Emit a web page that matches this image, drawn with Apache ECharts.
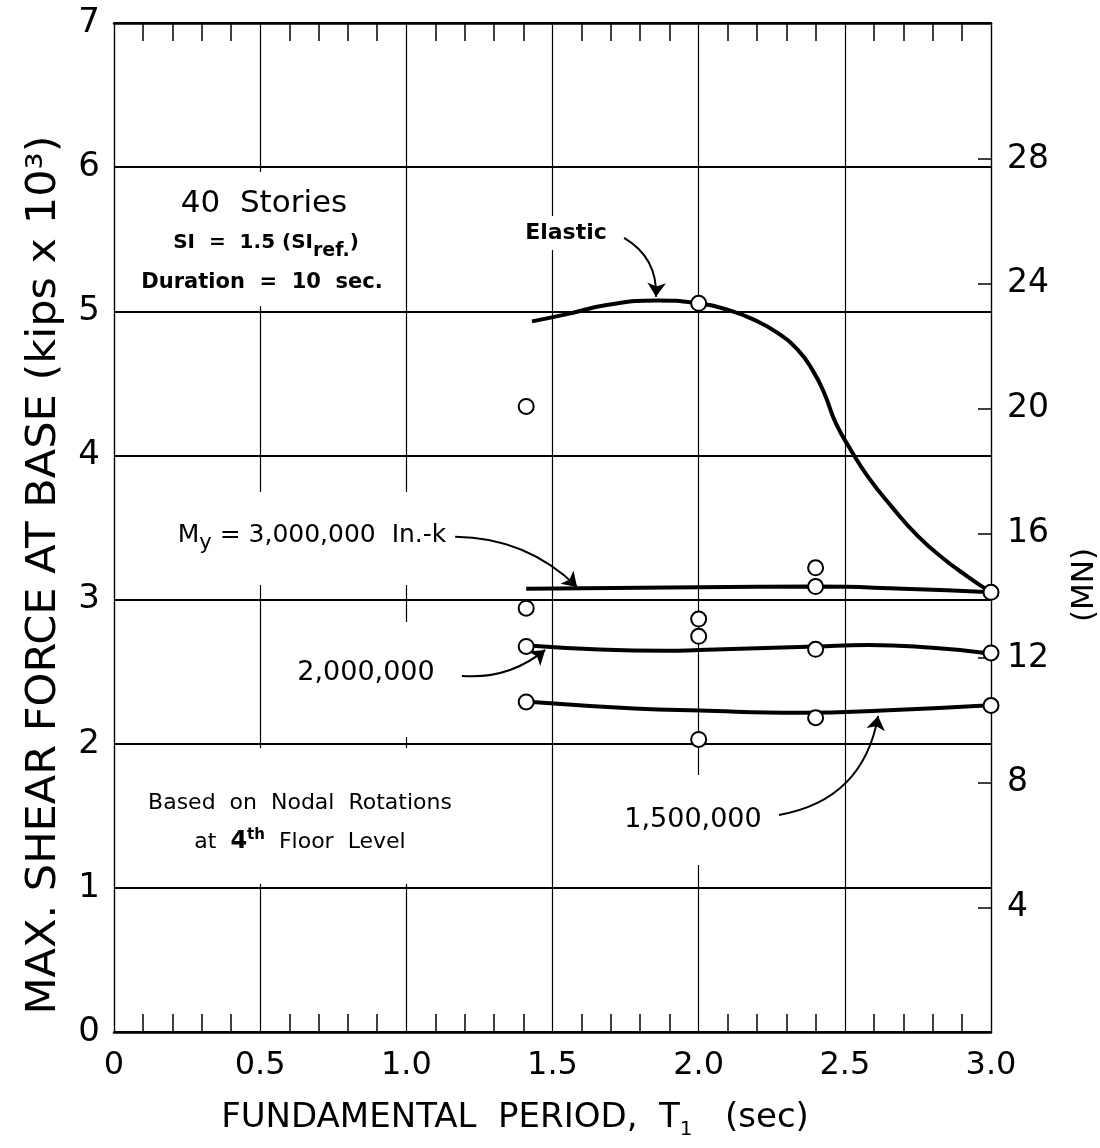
<!DOCTYPE html>
<html>
<head>
<meta charset="utf-8">
<script src="https://cdn.jsdelivr.net/npm/echarts@6/dist/echarts.min.js"></script>
<style>
  html, body { margin: 0; padding: 0; background: #fff; }
  #chart { width: 1100px; height: 1148px; }
</style>
</head>
<body>
<div id="chart"></div>
<script>
// Right-hand axis ticks (MN)
const mnTicks = [4, 8, 12, 16, 20, 24, 28];

// Elastic response: period T1 (sec) vs. max base shear (kips x 10^3)
const elasticT = [1.43, 1.55, 1.69, 1.86, 1.99, 2.10, 2.19, 2.27, 2.34, 2.39, 2.43, 2.47, 2.52, 2.58, 2.66, 2.75, 2.84, 2.92, 3.0];
const elasticV = [4.93, 4.98, 5.045, 5.075, 5.057, 5.01, 4.94, 4.85, 4.73, 4.59, 4.43, 4.22, 4.04, 3.85, 3.645, 3.44, 3.28, 3.16, 3.05];

// Yield moment My = 3,000,000 in.-k
const my3T = [1.41, 2.0, 2.4, 2.7, 3.0];
const my3V = [3.075, 3.085, 3.09, 3.075, 3.05];

// My = 2,000,000 in.-k
const my2T = [1.43, 1.89, 2.0, 2.4, 2.58, 2.8, 2.98];
const my2V = [2.68, 2.645, 2.65, 2.675, 2.685, 2.665, 2.63];

// My = 1,500,000 in.-k
const my15T = [1.43, 1.78, 2.0, 2.35, 2.63, 2.98];
const my15V = [2.29, 2.245, 2.23, 2.215, 2.23, 2.265];

// Computed responses (open circles)
const pointT = [1.41, 2.0, 2.4, 2.4, 3.0, 1.41, 1.41, 1.41, 2.0, 2.0, 2.0, 2.4, 2.4, 3.0, 3.0];
const pointV = [4.34, 5.055, 3.22, 3.09, 3.05, 2.94, 2.675, 2.29, 2.865, 2.745, 2.03, 2.655, 2.18, 2.63, 2.265];

// Leader arrows for the curve labels: [from, to] in (T1, shear)
const arrowPaths = [
  { from: [1.745, 5.51], to: [1.854, 5.10], bend: 0.3 },
  { from: [1.167, 3.435], to: [1.584, 3.088], bend: 0.2 },
  { from: [1.19, 2.47], to: [1.475, 2.651], bend: -0.2 },
  { from: [2.275, 1.506], to: [2.614, 2.193], bend: -0.35 }
];

const FONT = '"DejaVu Sans", "Liberation Sans", sans-serif';
const pairs = (xs, ys) => xs.map((x, i) => [x, ys[i]]);

const chart = echarts.init(document.getElementById('chart'), null, { renderer: 'canvas' });

const curveStyle = { color: '#000', width: 4 };

function curve(name, xs, ys, smooth) {
  return {
    name, type: 'line', data: pairs(xs, ys), smooth: smooth,
    showSymbol: false, symbol: 'none', lineStyle: curveStyle, z: 4,
    animation: false
  };
}

function box(x, y, w, h) {
  return { type: 'rect', shape: { x, y, width: w, height: h }, style: { fill: '#fff' }, z: 1, silent: true };
}
function label(x, y, text, size, weight) {
  return {
    type: 'text', x, y, z: 3, silent: true,
    style: {
      text, fill: '#000', align: 'center', verticalAlign: 'middle',
      font: (weight || 'normal') + ' ' + size + 'px ' + FONT
    }
  };
}
function richLabel(x, y, text, rich) {
  return {
    type: 'text', x, y, z: 3, silent: true,
    style: { text, rich, fill: '#000', align: 'center', verticalAlign: 'middle' }
  };
}

const option = {
  backgroundColor: '#fff',
  animation: false,
  grid: { left: 114, right: 109, top: 23, bottom: 116 },
  xAxis: [
    {
      type: 'value', position: 'bottom', min: 0, max: 3, interval: 0.5,
      axisLine: { show: true, onZero: false, lineStyle: { color: '#000', width: 2.5 } },
      axisTick: { show: false, inside: true },
      minorTick: { show: true, splitNumber: 5, length: 18, lineStyle: { color: '#000', width: 1.5 } },
      splitLine: { show: true, lineStyle: { color: '#000', width: 1.2 } },
      axisLabel: {
        fontSize: 32, fontFamily: FONT, color: '#000', margin: 18,
        formatter: v => (v === 0 ? '0' : v.toFixed(1))
      }
    },
    {
      type: 'value', position: 'top', min: 0, max: 3, interval: 0.5,
      axisLine: { show: true, onZero: false, lineStyle: { color: '#000', width: 2.5 } },
      axisTick: { show: false, inside: true },
      minorTick: { show: true, splitNumber: 5, length: 18, lineStyle: { color: '#000', width: 1.5 } },
      splitLine: { show: false },
      axisLabel: { show: false }
    }
  ],
  yAxis: [
    {
      type: 'value', position: 'left', min: 0, max: 7, interval: 1,
      axisLine: { show: true, onZero: false, lineStyle: { color: '#000', width: 1.2 } },
      axisTick: { show: false },
      splitLine: { show: true, lineStyle: { color: '#000', width: 2.2 } },
      axisLabel: { fontSize: 34, fontFamily: FONT, color: '#000', margin: 14 }
    },
    {
      type: 'value', position: 'right', min: 0, max: 32.37,
      axisLine: { show: true, onZero: false, lineStyle: { color: '#000', width: 1.2 } },
      axisTick: { show: true, inside: true, length: 13, customValues: mnTicks, lineStyle: { color: '#000', width: 1.5 } },
      splitLine: { show: false },
      axisLabel: { customValues: mnTicks, fontSize: 33, fontFamily: FONT, color: '#000', margin: 16 }
    }
  ],
  series: [
    curve('Elastic', elasticT, elasticV, 0.5),
    curve('My = 3,000,000', my3T, my3V, 0.5),
    curve('My = 2,000,000', my2T, my2V, 0.5),
    curve('My = 1,500,000', my15T, my15V, 0.5),
    {
      name: 'points', type: 'scatter', data: pairs(pointT, pointV),
      symbol: 'circle', symbolSize: 15,
      itemStyle: { color: '#fff', borderColor: '#000', borderWidth: 2, opacity: 1 },
      z: 6, animation: false
    },
    {
      name: 'leaders', type: 'lines', coordinateSystem: 'cartesian2d',
      xAxisIndex: 0, yAxisIndex: 0,
      symbol: ['none', 'arrow'], symbolSize: 14,
      lineStyle: { color: '#000', width: 2, opacity: 1 },
      data: arrowPaths.map(a => ({ coords: [a.from, a.to], lineStyle: { curveness: a.bend } })),
      z: 5, animation: false
    }
  ],
  graphic: {
    elements: [
      // white panels behind the annotation text
      box(135, 172, 260, 134),
      box(512, 216, 110, 34),
      box(160, 492, 295, 93),
      box(290, 622, 160, 115),
      box(620, 775, 150, 90),
      box(150, 748, 385, 136),

      label(264, 204, '40  Stories', 31),
      richLabel(266, 243, '{n|SI  =  1.5 (SI}{s|ref.}{n|)}', {
        n: { fontSize: 20, fontWeight: 'bold', fontFamily: FONT },
        s: { fontSize: 19, fontWeight: 'bold', fontFamily: FONT, padding: [16, 0, 0, 0] }
      }),
      label(262, 283, 'Duration  =  10  sec.', 21, 'bold'),
      label(566, 233, 'Elastic', 22, 'bold'),
      richLabel(312, 535, '{n|M}{s|y}{n| = 3,000,000  In.-k}', {
        n: { fontSize: 25, fontFamily: FONT },
        s: { fontSize: 21, fontFamily: FONT, padding: [18, 0, 0, 0] }
      }),
      label(366, 673, '2,000,000', 27),
      label(693, 820, '1,500,000', 27),
      label(300, 803, 'Based  on  Nodal  Rotations', 22),
      richLabel(300, 842, '{n|at  }{b|4}{p|th}{n|  Floor  Level}', {
        n: { fontSize: 22, fontFamily: FONT },
        b: { fontSize: 24, fontWeight: 'bold', fontFamily: FONT },
        p: { fontSize: 15, fontWeight: 'bold', fontFamily: FONT, padding: [0, 0, 14, 0] }
      }),

      // axis titles
      {
        type: 'text', x: 44, y: 575, rotation: Math.PI / 2, scaleX: 1.05, z: 3, silent: true,
        style: {
          text: 'MAX. SHEAR FORCE AT BASE (kips x 10³)', fill: '#000',
          align: 'center', verticalAlign: 'middle', font: '41px ' + FONT
        }
      },
      {
        type: 'text', x: 1085, y: 585, rotation: Math.PI / 2, z: 3, silent: true,
        style: { text: '(MN)', fill: '#000', align: 'center', verticalAlign: 'middle', font: '31px ' + FONT }
      },
      richLabel(515, 1118, '{n|FUNDAMENTAL  PERIOD,  T}{s|1}{n|   (sec)}', {
        n: { fontSize: 34, fontFamily: FONT },
        s: { fontSize: 20, fontFamily: FONT, padding: [24, 0, 0, 0] }
      })
    ]
  }
};

chart.setOption(option);
</script>
</body>
</html>
